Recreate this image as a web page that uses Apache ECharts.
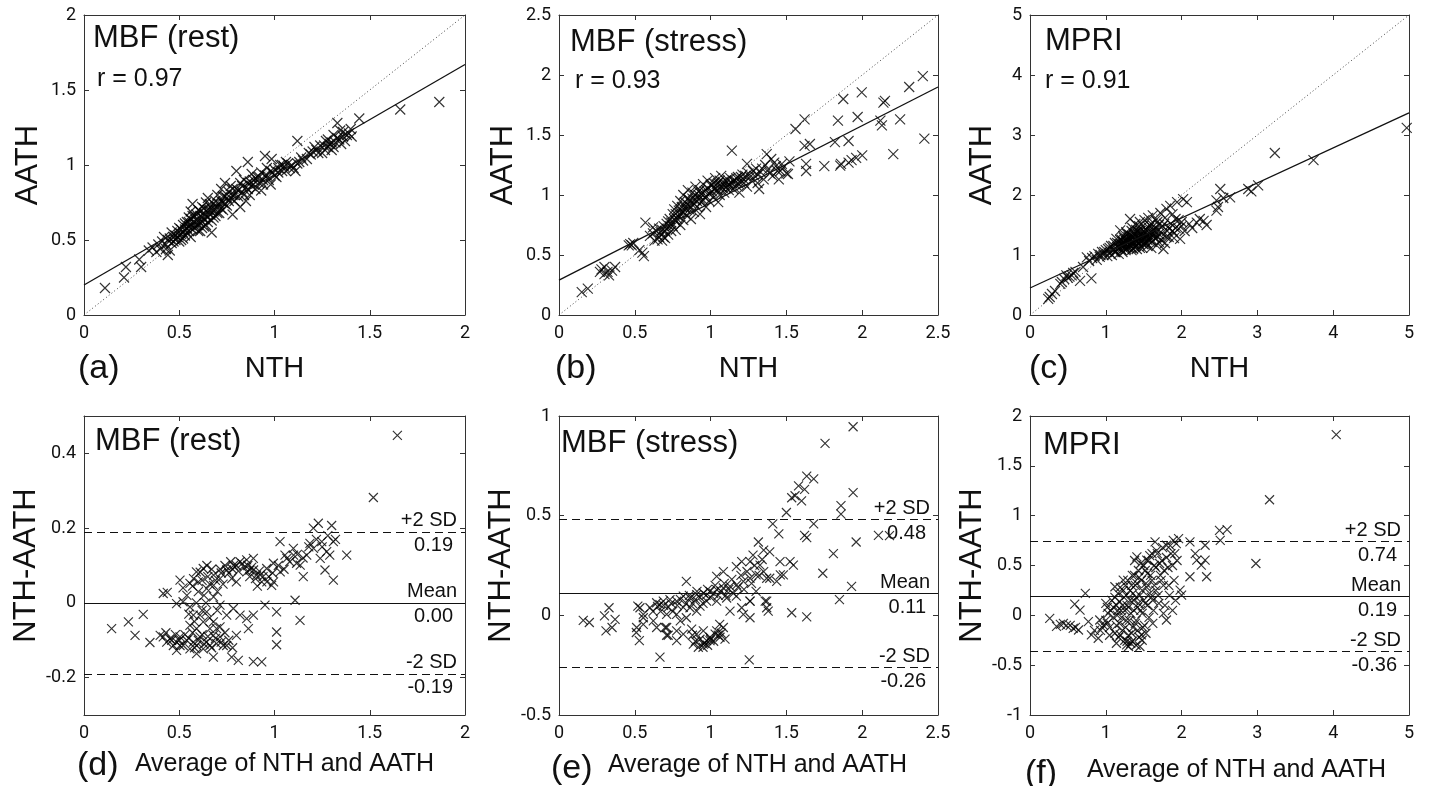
<!DOCTYPE html>
<html><head><meta charset="utf-8">
<script src="https://cdn.jsdelivr.net/npm/echarts@6.0.0/dist/echarts.min.js"></script>
<style>html,body{margin:0;padding:0;background:#fff}#c{width:1429px;height:786px}</style>
</head><body><div id="c"></div>
<script>
// ---------- DATA ----------
// (a) MBF rest: [NTH, AATH]
const restNthAath = [[0.11,0.18],[0.21,0.25],[0.22,0.32],[0.30,0.32],[0.29,0.37],[0.34,0.43],[0.36,0.45],[0.39,0.47],[0.44,0.40],[0.45,0.43],[0.41,0.49],[0.42,0.52],
[0.43,0.47],[0.45,0.51],[0.46,0.55],[0.47,0.49],[0.48,0.53],[0.49,0.56],[0.50,0.49],[0.50,0.58],[0.51,0.54],[0.52,0.60],[0.52,0.51],[0.53,0.57],[0.54,0.62],[0.54,0.55],[0.55,0.59],[0.55,0.65],[0.56,0.69],[0.56,0.52],[0.57,0.74],[0.57,0.61],[0.58,0.58],[0.58,0.66],[0.59,0.63],[0.60,0.56],[0.60,0.70],[0.61,0.56],[0.61,0.66],[0.62,0.62],[0.62,0.72],[0.63,0.59],[0.63,0.68],[0.64,0.60],[0.64,0.75],[0.65,0.78],[0.65,0.65],[0.66,0.70],[0.67,0.55],[0.67,0.63],[0.68,0.69],[0.68,0.74],[0.69,0.66],[0.70,0.72],[0.70,0.80],[0.71,0.68],[0.72,0.76],[0.72,0.84],[0.73,0.75],[0.73,0.70],[0.74,0.88],[0.74,0.79],[0.75,0.73],[0.76,0.82],[0.77,0.78],[0.77,0.86],[0.78,0.67],[0.78,0.80],[0.79,0.76],[0.80,0.96],[0.80,0.84],[0.81,0.79],[0.82,0.72],[0.82,0.88],[0.83,0.82],[0.84,0.90],[0.85,0.76],[0.85,0.85],[0.86,1.02],[0.86,0.88],[0.87,0.80],[0.88,0.94],[0.88,0.86],[0.89,0.90],[0.90,0.84],[0.91,0.92],[0.92,0.88],[0.93,0.83],[0.93,0.95],[0.94,0.90],[0.95,1.06],[0.95,0.93],[0.96,0.98],[0.97,0.90],[0.98,0.87],[0.985,1.04],[0.99,0.95],[1.00,0.93],[1.01,0.92],[1.02,0.98],[1.03,1.00],[1.04,0.96],[1.05,0.99],[1.06,0.96],[1.07,1.01],[1.08,0.98],[1.10,0.98],[1.11,0.96],[1.12,1.16],[1.12,1.01],[1.13,1.02],[1.15,1.03],[1.17,1.04],[1.19,1.07],[1.20,1.09],[1.22,1.10],[1.24,1.13],[1.25,1.08],[1.265,1.10],[1.27,1.16],[1.28,1.12],[1.29,1.14],[1.30,1.10],[1.31,1.12],[1.31,1.20],[1.32,1.15],[1.33,1.18],[1.33,1.28],[1.345,1.23],[1.35,1.14],[1.36,1.19],[1.37,1.16],[1.38,1.20],[1.40,1.24],[1.405,1.19],[1.445,1.31],[1.66,1.37],[1.865,1.42],
[0.44,0.50],[0.46,0.48],[0.47,0.52],[0.48,0.50],[0.49,0.52],[0.50,0.53],[0.51,0.57],[0.51,0.50],[0.52,0.55],[0.53,0.53],[0.53,0.61],[0.54,0.58],[0.55,0.56],[0.55,0.62],[0.56,0.60],[0.56,0.64],[0.57,0.57],[0.57,0.66],[0.58,0.62],[0.59,0.60],[0.59,0.67],[0.60,0.63],[0.60,0.60],[0.61,0.69],[0.62,0.65],[0.62,0.58],[0.63,0.64],[0.63,0.71],[0.64,0.66],[0.65,0.62],[0.65,0.70],[0.66,0.67],[0.66,0.74],[0.67,0.71],[0.68,0.65],[0.69,0.72],[0.69,0.76],[0.70,0.68],[0.71,0.74],[0.72,0.71],[0.73,0.79],[0.74,0.74],[0.75,0.78],[0.76,0.76],[0.78,0.84],[0.79,0.80],[0.81,0.83],[0.83,0.86],[0.84,0.80],[0.86,0.84],[0.87,0.89],[0.89,0.87],[0.90,0.91],[0.92,0.92],[0.94,0.87],[0.96,0.93],[0.98,0.96],[1.00,0.97],[1.02,0.95],[1.04,1.00],[1.06,1.02],[1.09,1.00],[1.14,1.05],[1.18,1.08],[1.21,1.12],[1.23,1.08],[1.26,1.13],[1.28,1.17],[1.30,1.15],[1.34,1.17],[1.36,1.22],[1.39,1.21],[0.40,0.44],[0.38,0.42],[0.43,0.44]];

// (b) MBF stress: [NTH, AATH]
const stressNthAath = [[0.15,0.19],[0.19,0.22],[0.27,0.36],[0.28,0.38],[0.30,0.40],[0.30,0.34],[0.33,0.33],[0.35,0.37],[0.37,0.40],[0.32,0.36],
[0.46,0.58],[0.47,0.59],[0.48,0.58],[0.49,0.60],[0.53,0.54],[0.56,0.49],[0.55,0.52],[0.57,0.77],[0.60,0.66],[0.62,0.73],[0.63,0.62],[0.65,0.63],[0.66,0.65],[0.67,0.69],[0.68,0.62],[0.69,0.65],[0.70,0.70],[0.70,0.64],[0.71,0.76],[0.72,0.67],[0.73,0.80],[0.74,0.70],[0.75,0.84],[0.75,0.74],[0.76,0.88],[0.77,0.78],[0.77,0.71],[0.78,0.91],[0.79,0.82],[0.80,0.75],[0.80,0.95],[0.81,0.86],[0.82,0.79],[0.82,1.00],[0.83,0.90],[0.84,0.83],[0.85,0.97],[0.85,1.04],[0.86,0.88],[0.87,0.80],[0.87,0.93],[0.88,1.02],[0.89,0.86],[0.90,0.96],[0.90,1.07],[0.91,0.90],[0.92,1.00],[0.93,0.84],[0.93,1.04],[0.94,0.94],[0.95,1.09],[0.96,0.98],[0.97,0.90],[0.97,1.04],[0.98,1.12],[0.99,0.95],[1.00,1.02],[1.01,1.08],[1.02,0.98],[1.03,1.14],[1.04,1.04],[1.05,0.94],[1.05,1.10],[1.06,1.00],[1.07,1.16],[1.08,1.06],[1.09,1.02],[1.10,1.12],[1.11,1.08],[1.12,1.04],[1.13,1.14],[1.14,1.37],[1.14,1.10],[1.15,1.05],[1.16,1.12],[1.17,1.08],[1.18,1.15],[1.19,1.02],[1.20,1.10],[1.21,1.17],[1.22,1.13],[1.24,1.26],[1.24,1.07],[1.25,1.18],[1.27,1.12],[1.29,1.16],[1.30,1.22],[1.31,1.10],[1.32,1.05],[1.33,1.19],[1.35,1.13],[1.36,1.25],[1.37,1.34],[1.38,1.21],[1.40,1.30],[1.41,1.16],[1.42,1.27],[1.44,1.20],[1.45,1.13],[1.47,1.26],[1.48,1.23],[1.50,1.18],[1.51,1.175],[1.52,1.28],[1.56,1.55],[1.62,1.63],[1.62,1.41],[1.655,1.425],[1.63,1.20],[1.63,1.26],[1.75,1.24],[1.82,1.44],[1.84,1.62],[1.875,1.80],[1.855,1.245],[1.86,1.26],[1.91,1.27],[1.91,1.45],[1.93,1.29],[1.997,1.855],[1.97,1.65],[2.0,1.33],[1.96,1.31],[2.14,1.77],[2.15,1.785],[2.12,1.62],[2.13,1.58],[2.205,1.34],[2.25,1.63],[2.31,1.90],[2.40,1.99],[2.41,1.47],
[0.62,0.68],[0.64,0.70],[0.66,0.72],[0.68,0.71],[0.69,0.74],[0.71,0.72],[0.72,0.78],[0.73,0.74],[0.74,0.77],[0.76,0.80],[0.77,0.84],[0.78,0.80],[0.79,0.87],[0.80,0.84],[0.81,0.90],[0.82,0.86],[0.83,0.94],[0.84,0.88],[0.85,0.92],[0.86,0.96],[0.87,0.90],[0.88,0.97],[0.89,0.93],[0.90,1.00],[0.91,0.95],[0.92,1.03],[0.93,0.97],[0.94,1.01],[0.95,0.96],[0.96,1.03],[0.97,0.99],[0.98,1.06],[0.99,1.01],[1.00,1.08],[1.01,1.03],[1.02,1.10],[1.03,1.05],[1.04,1.09],[1.05,1.04],[1.06,1.12],[1.07,1.07],[1.08,1.11],[1.09,1.08],[1.10,1.06],[1.11,1.13],[1.12,1.09],[1.13,1.07],[1.15,1.12],[1.17,1.14],[1.18,1.10],[1.20,1.15],[1.22,1.10],[1.23,1.16],[1.26,1.15],[1.28,1.20],[1.31,1.17],[1.34,1.22],[1.39,1.18],[1.43,1.24],[1.46,1.20]];

// (c) MPRI: [NTH, AATH]
const mpriNthAath = [[0.24,0.27],[0.26,0.30],[0.29,0.35],[0.33,0.40],[0.40,0.52],[0.42,0.55],[0.45,0.60],[0.48,0.66],[0.50,0.62],[0.52,0.64],[0.55,0.66],[0.57,0.70],[0.60,0.72],[0.66,0.57],[0.81,0.61],[0.70,0.80],[0.75,0.96],[0.78,0.90],[0.82,0.95],[0.85,0.98],[0.88,0.92],[0.90,1.02],[0.92,0.97],[0.95,1.05],[0.97,1.00],[1.00,1.08],[1.02,0.98],[1.03,1.10],[1.05,1.04],[1.07,1.15],[1.08,1.00],[1.10,1.09],[1.12,1.20],[1.13,1.05],[1.14,1.27],[1.15,1.13],[1.17,1.02],[1.18,1.18],[1.19,1.41],[1.20,1.10],[1.21,1.25],[1.22,1.05],[1.23,1.32],[1.24,1.15],[1.25,1.20],[1.26,1.08],[1.27,1.38],[1.28,1.22],[1.29,1.12],[1.30,1.30],[1.31,1.17],[1.32,1.60],[1.33,1.26],[1.34,1.08],[1.35,1.45],[1.36,1.20],[1.37,1.34],[1.38,1.14],[1.39,1.52],[1.40,1.25],[1.41,1.10],[1.42,1.40],[1.43,1.30],[1.44,1.18],[1.45,1.55],[1.46,1.22],[1.47,1.36],[1.48,1.12],[1.49,1.48],[1.50,1.28],[1.51,1.58],[1.52,1.20],[1.53,1.42],[1.54,1.33],[1.55,1.15],[1.56,1.62],[1.57,1.26],[1.58,1.50],[1.60,1.38],[1.61,1.22],[1.62,1.66],[1.63,1.30],[1.65,1.45],[1.67,1.16],[1.68,1.55],[1.70,1.35],[1.72,1.70],[1.73,1.25],[1.75,1.48],[1.76,1.10],[1.78,1.62],[1.80,1.77],[1.81,1.40],[1.83,1.30],[1.85,1.82],[1.86,1.52],[1.88,1.68],[1.90,1.36],[1.92,1.45],[1.94,1.88],[1.96,1.58],[1.98,1.27],[2.00,1.48],[2.02,1.93],[2.04,1.40],[2.07,1.88],[2.10,1.52],[2.14,1.45],[2.20,1.54],[2.24,1.60],[2.29,1.57],[2.33,1.50],[2.46,1.91],[2.48,1.80],[2.46,1.74],[2.51,2.10],[2.55,1.95],[2.64,1.96],[2.88,2.10],[2.92,2.06],[3.01,2.16],[3.23,2.70],[3.74,2.58],[4.97,3.12],
[1.22,1.16],[1.26,1.24],[1.30,1.14],[1.34,1.32],[1.36,1.10],[1.38,1.28],[1.40,1.42],[1.43,1.20],[1.46,1.30],[1.50,1.18],[1.52,1.36],[1.55,1.25],[1.58,1.32],[1.62,1.42],[1.66,1.28],[1.70,1.50],[1.25,1.12],[1.28,1.35],[1.32,1.18],[1.44,1.48],
[1.10,1.15],[1.12,1.05],[1.15,1.20],[1.17,1.12],[1.19,1.25],[1.20,1.18],[1.21,1.08],[1.23,1.22],[1.24,1.28],[1.25,1.16],[1.27,1.10],[1.28,1.26],[1.29,1.20],[1.31,1.34],[1.32,1.24],[1.33,1.14],[1.34,1.40],[1.35,1.22],[1.36,1.30],[1.37,1.18],[1.38,1.36],[1.39,1.24],[1.40,1.15],[1.41,1.32],[1.42,1.22],[1.43,1.38],[1.44,1.26],[1.45,1.12],[1.46,1.40],[1.47,1.24],[1.48,1.32],[1.49,1.18],[1.50,1.40],[1.51,1.26],[1.53,1.30],[1.54,1.20],[1.56,1.38],[1.57,1.45],[1.59,1.28],[1.60,1.52],[1.62,1.35],[1.64,1.40],[1.66,1.58],[1.68,1.30],[1.70,1.42],[1.74,1.36],[1.77,1.52],[1.80,1.30],[1.84,1.45],[1.88,1.40],[1.92,1.60],[1.96,1.44],[2.00,1.55],[1.05,1.12],[0.98,1.05],[0.93,1.00],[1.60,1.12],[1.70,1.22],[1.78,1.20],[1.90,1.28]];

// (d) MBF rest Bland-Altman: [average, NTH-AATH]
const restBland = [[0.145,-0.069],[0.233,-0.051],[0.311,-0.031],[0.268,-0.087],[0.346,-0.106],[0.40,-0.087],[0.416,0.025],[0.437,0.028],[0.504,0.061],[0.486,-0.002],[0.52,0.003],[0.556,-0.011],[0.556,0.052],[0.59,0.083],[0.626,0.092],[0.60,0.056],[0.644,0.038],[0.68,0.016],[0.68,0.047],[0.714,0.065],[0.749,0.088],[0.775,0.065],[0.80,0.056],[0.819,0.11],[0.854,0.115],[0.871,0.088],[0.889,0.119],[0.906,0.074],[0.933,0.056],[0.959,0.092],[0.985,0.047],[0.994,0.106],[1.029,0.164],[1.055,0.128],[1.099,0.146],[1.116,0.106],[1.151,0.07],[1.186,0.159],[1.169,0.128],[1.204,0.20],[1.23,0.213],[1.248,0.164],[1.274,0.137],[1.265,0.088],[1.30,0.207],[1.309,0.164],[1.309,0.061],[1.29,0.128],[1.379,0.128],[1.108,0.007],[1.134,-0.047],[1.011,-0.024],[1.011,-0.078],[1.011,-0.112],[0.95,-0.006],[0.889,-0.033],[0.854,-0.042],[0.819,-0.033],[0.784,-0.015],[0.749,-0.033],[0.714,-0.006],[0.863,-0.069],[0.80,-0.087],[0.749,-0.114],[0.775,-0.145],[0.81,-0.154],[0.889,-0.157],[0.933,-0.158],[0.679,-0.145],[0.591,-0.136],[0.486,-0.127],[0.504,-0.114],
[0.416,-0.091],[0.434,-0.105],[0.451,-0.096],[0.469,-0.114],[0.486,-0.105],[0.504,-0.091],[0.521,-0.114],[0.539,-0.10],[0.556,-0.123],[0.574,-0.105],[0.591,-0.114],[0.609,-0.091],[0.626,-0.123],[0.644,-0.105],[0.661,-0.114],[0.679,-0.087],[0.696,-0.109],[0.714,-0.091],[0.731,-0.114],[0.591,-0.069],[0.556,-0.06],[0.626,-0.051],[0.661,-0.069],[0.696,-0.069],[0.609,-0.033],[0.574,-0.033],[0.644,-0.024],[0.679,-0.051],[0.714,-0.064],
[0.575,0.065],[0.61,0.082],[0.645,0.10],[0.68,0.074],[0.715,0.09],[0.785,0.10],[0.855,0.083],[0.89,0.088],[0.925,0.074],[0.96,0.056],[0.995,0.056],[1.03,0.083],[1.065,0.119],[1.10,0.128],[1.135,0.101],[1.205,0.146],[1.24,0.119],[1.519,0.282],[1.645,0.448],
[0.52,0.04],[0.54,0.02],[0.57,0.045],[0.60,0.03],[0.62,0.06],[0.63,0.02],[0.65,0.07],[0.66,0.05],[0.67,0.09],[0.69,0.06],[0.70,0.03],[0.72,0.08],[0.73,0.05],[0.74,0.10],[0.76,0.08],[0.77,0.11],[0.78,0.09],[0.80,0.10],[0.81,0.085],[0.83,0.105],[0.84,0.095],[0.86,0.10],[0.87,0.07],[0.88,0.095],[0.90,0.065],[0.91,0.045],[0.92,0.085],[0.94,0.07],[0.97,0.07],[0.99,0.08],[1.02,0.10],[1.05,0.09],[1.08,0.11],[1.12,0.13],[1.15,0.12],[1.18,0.15],[1.22,0.17],[1.25,0.15],[1.28,0.18],[1.32,0.17],
[0.43,-0.08],[0.46,-0.10],[0.48,-0.085],[0.50,-0.10],[0.53,-0.085],[0.55,-0.095],[0.57,-0.08],[0.58,-0.12],[0.60,-0.10],[0.62,-0.085],[0.63,-0.11],[0.65,-0.09],[0.67,-0.12],[0.69,-0.095],[0.72,-0.105],[0.74,-0.08],[0.76,-0.10],[0.78,-0.12],[0.55,-0.03],[0.58,-0.05],[0.62,-0.02],[0.66,-0.04],[0.70,-0.02],[0.64,0.00],[0.59,0.00]];

// (e) MBF stress Bland-Altman: [average, NTH-AATH]
const stressBland = [[0.16,-0.025],[0.20,-0.036],[0.30,-0.003],[0.33,0.038],[0.37,-0.02],[0.31,-0.078],[0.35,-0.061],[0.52,0.046],[0.51,-0.086],[0.53,-0.127],[0.556,-0.012],[0.666,-0.21],[0.666,0.054],[0.70,-0.061],[0.71,-0.10],[0.776,-0.078],[0.84,0.17],[0.886,-0.144],[0.95,-0.16],[0.996,-0.127],[1.06,-0.045],[1.095,-0.119],[1.084,0.219],[1.205,0.269],[1.26,0.071],[1.26,-0.012],[1.255,-0.223],[1.315,0.368],[1.35,0.327],[1.37,0.071],[1.38,0.021],[1.39,0.186],[1.41,0.459],[1.45,0.409],[1.46,0.203],[1.50,0.516],[1.535,0.59],[1.557,0.60],[1.58,0.649],[1.60,0.574],[1.62,0.632],[1.634,0.698],[1.68,0.685],[1.62,0.401],[1.634,0.39],[1.68,0.459],[1.535,0.013],[1.634,-0.008],[1.74,0.211],[1.755,0.863],[1.81,0.31],[1.85,0.079],[1.86,0.55],[1.86,0.508],[1.94,0.616],[1.93,0.145],[1.94,0.946],[1.96,0.368],[2.107,0.401],[2.18,0.40],
[0.60,0.038],[0.644,0.063],[0.688,0.071],[0.732,0.079],[0.776,0.071],[0.82,0.096],[0.864,0.087],[0.908,0.104],[0.952,0.112],[0.996,0.12],[1.04,0.129],[1.084,0.137],[1.128,0.145],[1.172,0.153],[1.216,0.17],[1.26,0.186],[1.30,0.203],[1.35,0.219],[1.37,0.186],[1.326,0.252],[1.28,0.302],[1.26,0.269],[1.17,0.244],[1.04,0.195],
[0.71,0.005],[0.776,0.005],[0.864,0.038],[0.93,0.046],[0.974,0.071],[1.04,0.071],[1.106,0.087],[1.17,0.096],[0.80,-0.028],[0.84,-0.012],[0.908,0.021],[0.622,-0.028],[0.644,-0.061],[0.72,-0.10],[0.776,-0.127],[0.82,-0.094],
[0.919,-0.16],[0.952,-0.144],[0.974,-0.127],[0.996,-0.11],[1.03,-0.094],[1.062,-0.11],[1.04,-0.078],[1.084,-0.061],[0.952,-0.078],[0.908,-0.094],[0.875,-0.069],
[1.205,0.038],[1.216,0.005],[1.128,0.021],[1.26,0.071],[1.30,0.12],[1.36,0.071],[1.37,0.038],[1.436,0.17],[1.48,0.203],[1.524,0.269],[1.546,0.252],[1.458,0.269],[1.39,0.318],
[0.534,0.038],[0.556,0.005],[0.512,-0.061],[0.556,-0.045],[0.71,-0.061],
[0.62,0.02],[0.65,0.045],[0.67,0.02],[0.69,0.05],[0.72,0.04],[0.74,0.06],[0.75,0.02],[0.78,0.05],[0.80,0.08],[0.82,0.04],[0.84,0.06],[0.86,0.10],[0.88,0.06],[0.90,0.08],[0.91,0.12],[0.93,0.09],[0.95,0.06],[0.97,0.10],[0.98,0.13],[1.00,0.09],[1.02,0.11],[1.03,0.15],[1.05,0.10],[1.07,0.12],[1.09,0.16],[1.10,0.10],[1.12,0.13],[1.14,0.18],[1.15,0.11],[1.18,0.14],[1.20,0.20],[1.22,0.13],[1.24,0.22],[1.27,0.16],[1.29,0.25],[1.32,0.20],[1.34,0.28],[0.93,-0.12],[0.96,-0.14],[0.98,-0.15],[1.00,-0.12],[1.02,-0.13],[1.05,-0.10],[0.90,-0.13],[0.88,-0.10],[1.07,-0.09]];

// (f) MPRI Bland-Altman: [average, NTH-AATH]
const mpriBland = [[0.26,-0.03],[0.35,-0.11],[0.40,-0.09],[0.44,-0.08],[0.48,-0.10],[0.53,-0.10],[0.57,-0.13],[0.60,-0.12],[0.64,-0.147],[0.59,0.113],[0.66,0.053],[0.73,0.22],[0.77,-0.063],[0.81,-0.197],[0.85,-0.15],[0.90,-0.23],[0.92,-0.047],[1.03,0.02],[1.14,-0.28],[1.19,-0.197],[1.275,-0.297],[1.30,-0.313],[1.45,-0.313],[1.47,-0.197],[1.12,0.287],[1.23,0.353],[1.41,0.587],[1.54,0.553],[1.65,0.737],[1.80,0.703],[1.89,0.753],[1.96,0.77],[2.11,0.737],[2.18,0.62],[2.20,0.553],[2.31,0.553],[2.26,0.503],[2.11,0.387],[2.33,0.387],[2.31,0.703],[2.51,0.753],[2.50,0.853],[2.60,0.86],[2.98,0.52],[3.16,1.16],[4.04,1.813],[1.98,0.253],[2.0,0.203],[1.80,-0.047],[1.76,0.02],
[1.00,-0.05],[1.02,0.08],[1.05,-0.12],[1.08,0.15],[1.10,-0.02],[1.12,-0.18],[1.14,0.10],[1.16,0.22],[1.18,-0.08],[1.20,0.05],[1.22,-0.15],[1.24,0.18],[1.26,0.30],[1.27,-0.05],[1.28,0.10],[1.30,-0.20],[1.32,0.25],[1.33,0.02],[1.35,0.40],[1.36,-0.12],[1.37,0.15],[1.39,0.30],[1.40,-0.05],[1.42,0.08],[1.43,0.45],[1.44,-0.22],[1.45,0.20],[1.47,0.35],[1.48,0.02],[1.50,0.50],[1.51,-0.10],[1.52,0.12],[1.54,0.28],[1.55,0.42],[1.57,-0.02],[1.58,0.60],[1.60,0.18],[1.61,0.35],[1.63,0.05],[1.64,0.50],[1.66,0.25],[1.68,0.62],[1.70,0.12],[1.72,0.40],[1.74,0.55],[1.76,0.30],[1.78,0.10],[1.82,0.48],[1.84,0.20],[1.86,0.62],[1.88,0.05],[1.90,0.35],[1.92,0.15],[1.94,0.55],[1.25,-0.25],[1.35,-0.26],[1.38,0.55],[1.15,0.00],[1.06,0.05],[0.97,-0.10],[0.93,-0.15],[1.53,-0.18],[1.62,-0.08],
[1.10,0.08],[1.12,0.18],[1.14,-0.10],[1.16,0.05],[1.18,0.14],[1.19,0.28],[1.21,-0.02],[1.22,0.10],[1.23,0.25],[1.25,0.05],[1.26,-0.12],[1.27,0.20],[1.29,0.35],[1.30,0.08],[1.31,-0.05],[1.32,0.15],[1.34,0.30],[1.34,-0.18],[1.36,0.22],[1.37,0.05],[1.38,0.40],[1.39,-0.08],[1.40,0.18],[1.41,0.32],[1.42,-0.15],[1.43,0.12],[1.44,0.38],[1.46,0.05],[1.46,0.52],[1.48,0.25],[1.49,-0.12],[1.50,0.15],[1.52,0.45],[1.53,0.32],[1.55,0.10],[1.56,0.55],[1.58,0.22],[1.59,0.40],[1.61,0.62],[1.62,0.15],[1.64,0.30],[1.66,0.48],[1.67,0.65],[1.69,0.20],[1.71,0.52],[1.73,0.35],[1.75,0.68],[1.77,0.45],[1.80,0.58],[1.83,0.30],[1.85,0.70],[1.88,0.50],[1.91,0.62],[1.93,0.72],[1.17,-0.22],[1.28,-0.26],[1.33,-0.28],[1.40,-0.30],[1.48,-0.25],[1.05,-0.20],[0.95,-0.12],[1.00,0.12],[1.02,-0.08]];

// regression (fit) line end points and identity line end points, top row
const fitRest = [[0,0.2],[2,1.67]];
const fitStress = [[0,0.29],[2.5,1.90]];
const fitMpri = [[0,0.45],[5,3.37]];
const identRest = [[0,0],[2,2]];
const identStress = [[0,0],[2.5,2.5]];
const identMpri = [[0,0],[5,5]];

// Bland-Altman lines: +2 SD, mean, -2 SD
const baRest = [0.19, 0.00, -0.19];
const baStress = [0.48, 0.11, -0.26];
const baMpri = [0.74, 0.19, -0.36];
const baNames = ['+2 SD', 'Mean', '-2 SD'];

// axis ranges [min, max, interval]
const xRanges = [[0,2,0.5],[0,2.5,0.5],[0,5,1],[0,2,0.5],[0,2.5,0.5],[0,5,1]];
const yRanges = [[0,2,0.5],[0,2.5,0.5],[0,5,1],[-0.3,0.5,null],[-0.5,1,0.5],[-1,2,0.5]];
const restBlandTicks = [-0.2, 0, 0.2, 0.4];

const panelTitles = ['MBF (rest)','MBF (stress)','MPRI','MBF (rest)','MBF (stress)','MPRI'];
const rTexts = ['r = 0.97','r = 0.93','r = 0.91'];
const panelLetters = ['(a)','(b)','(c)','(d)','(e)','(f)'];
const xNames = ['NTH','NTH','NTH','Average of NTH and AATH','Average of NTH and AATH','Average of NTH and AATH'];
const yNames = ['AATH','AATH','AATH','NTH-AATH','NTH-AATH','NTH-AATH'];

// ---------- LAYOUT ----------
const gridBoxes = [
  {left:84, top:15, width:381, height:300},
  {left:559, top:15, width:379, height:300},
  {left:1030, top:15, width:379, height:300},
  {left:84, top:416, width:381, height:299},
  {left:559, top:416, width:379, height:299},
  {left:1030, top:416, width:379, height:299}
];
const xNameGaps = [39,39,39,37,38,43];
const xNamePad = [0,0,0,20,18,34];
const yNameGaps = [40,40,32,40,42,42];
const titlePos = [[93,22.5],[570,27],[1045,25.5],[95,426],[561,427.5],[1043,430]];
const rPos = [[97,66.5],[575,69],[1045,69]];
const letterPos = [[78,352],[555,352],[1029,352],[77,749],[551,752],[1025,757]];

const FT = '"Liberation Sans", Arial, Helvetica, sans-serif';
const FN = 'Roboto, "Liberation Sans", sans-serif';
const INK = '#111';
const AX = '#333';
const XMARK = 'path://M0,0L10,10M10,0L0,10';

const xAxes = [], yAxes = [], series = [], graphics = [];

for (let i = 0; i < 6; i++) {
  const [xmin, xmax, xint] = xRanges[i];
  const [ymin, ymax, yint] = yRanges[i];
  const lineCfg = {show:true, onZero:false, lineStyle:{color:AX, width:1}};
  const tickCfg = {show:true, inside:true, length:5, lineStyle:{color:AX, width:1}};
  const labelCfg = {show:true, color:INK, fontFamily:FN, fontSize:18, margin:9};
  xAxes.push({type:'value', gridIndex:i, position:'bottom', min:xmin, max:xmax, interval:xint,
    axisLine:lineCfg, axisTick:tickCfg, splitLine:{show:false}, axisLabel:labelCfg,
    name:xNames[i], nameLocation:'middle', nameGap:xNameGaps[i],
    nameTextStyle:{fontFamily:FT, fontSize: i<3?29:25, color:INK, padding:[0,0,0,xNamePad[i]]}});
  xAxes.push({type:'value', gridIndex:i, position:'top', min:xmin, max:xmax, interval:xint,
    axisLine:lineCfg, axisTick:tickCfg, splitLine:{show:false}, axisLabel:{show:false}});
  const yTick = Object.assign({}, tickCfg);
  const yLab = Object.assign({}, labelCfg, {margin:8});
  const yCfg = {type:'value', gridIndex:i, min:ymin, max:ymax};
  if (yint !== null) { yCfg.interval = yint; }
  else { yTick.customValues = restBlandTicks; yLab.customValues = restBlandTicks; }
  yAxes.push(Object.assign({}, yCfg, {position:'left', axisLine:lineCfg, axisTick:yTick, splitLine:{show:false}, axisLabel:yLab,
    name:yNames[i], nameLocation:'middle', nameGap:yNameGaps[i], nameRotate:90,
    nameTextStyle:{fontFamily:FT, fontSize:31, color:INK}}));
  yAxes.push(Object.assign({}, yCfg, {position:'right', axisLine:lineCfg, axisTick:yTick, splitLine:{show:false}, axisLabel:{show:false}}));
}

const scatterData = [restNthAath, stressNthAath, mpriNthAath, restBland, stressBland, mpriBland];
const fits = [fitRest, fitStress, fitMpri];
const idents = [identRest, identStress, identMpri];
const baLines = [baRest, baStress, baMpri];

for (let i = 0; i < 6; i++) {
  const ax = {xAxisIndex:2*i, yAxisIndex:2*i};
  if (i < 3) {
    series.push(Object.assign({type:'line', data:idents[i], symbol:'none', silent:true, z:1,
      lineStyle:{color:'#444', width:1, type:[1,2.5]}}, ax));
  }
  const s = Object.assign({type:'scatter', data:scatterData[i], symbol:XMARK, symbolSize: i<3?10:9, silent:true, z:2,
    itemStyle:{color:'rgba(0,0,0,0)', borderColor:'#000', borderWidth:1.15}}, ax);
  if (i >= 3) {
    const vals = baLines[i-3];
    const md = [];
    vals.forEach((v, k) => {
      md.push({yAxis:v, lineStyle:{color:INK, width:1, type: k===1 ? 'solid' : [8,5]},
        label:{show:true, position:'insideEndTop', formatter:baNames[k], distance:[8,1], color:INK, fontFamily:FT, fontSize:20}});
      md.push({yAxis:v, lineStyle:{color:'rgba(0,0,0,0)', width:1, type:'solid'},
        label:{show:true, position:'insideEndBottom', formatter:v.toFixed(2), distance:[12,4], color:INK, fontFamily:FT, fontSize:20}});
    });
    s.markLine = {silent:true, symbol:'none', animation:false, data:md};
  }
  series.push(s);
  if (i < 3) {
    series.push(Object.assign({type:'line', data:fits[i], symbol:'none', silent:true, z:3,
      lineStyle:{color:INK, width:1.3}}, ax));
  }
}

for (let i = 0; i < 6; i++) {
  graphics.push({type:'text', left:titlePos[i][0], top:titlePos[i][1], silent:true,
    style:{text:panelTitles[i], font:'31px ' + FT, fill:INK}});
  graphics.push({type:'text', left:letterPos[i][0], top:letterPos[i][1], silent:true,
    style:{text:panelLetters[i], font:'34px ' + FT, fill:INK}});
}
for (let i = 0; i < 3; i++) {
  graphics.push({type:'text', left:rPos[i][0], top:rPos[i][1], silent:true,
    style:{text:rTexts[i], font:'25px ' + FT, fill:INK}});
}

const chart = echarts.init(document.getElementById('c'), null, {renderer:'canvas'});
chart.setOption({
  animation:false,
  backgroundColor:'#fff',
  grid: gridBoxes,
  xAxis: xAxes,
  yAxis: yAxes,
  series: series,
  graphic: graphics
});
</script>
</body></html>
